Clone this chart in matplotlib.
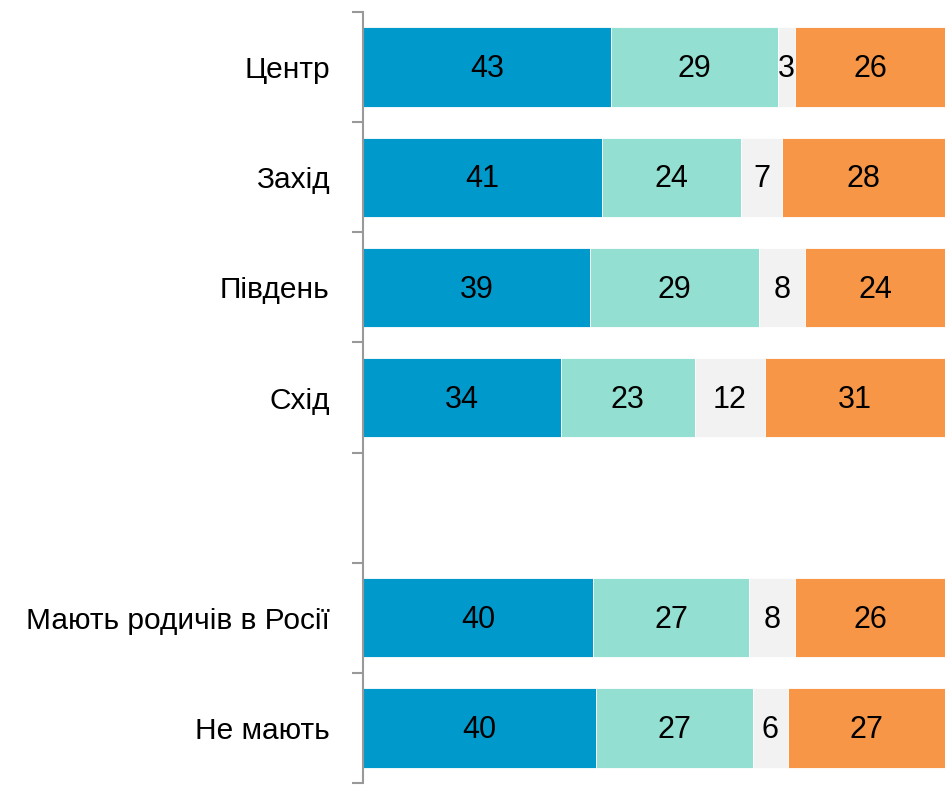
import matplotlib
matplotlib.use("Agg")
import matplotlib.pyplot as plt
import matplotlib.transforms as mtransforms
import numpy as np

plt.rcParams['font.family'] = ['Liberation Sans', 'DejaVu Sans']

#data
labels = ["Центр", "Захід", "Південь", "Схід", "", "Мають родичів в Росії", "Не мають"]
s1 = [43, 41, 39, 34, None, 40, 40]
s2 = [29, 24, 29, 23, None, 27, 27]
s3 = [3, 7, 8, 12, None, 8, 6]
s4 = [26, 28, 24, 31, None, 26, 27]
colors = ["#0099CC", "#93E0D2", "#F2F2F2", "#F79646"]

fig = plt.figure(figsize=(9.53, 7.86), dpi=100)
ax = fig.add_axes([363/953, 1-783/786, (945-363)/953, (783-12)/786])

rows = [i for i in range(len(labels)) if s1[i] is not None]
series = [np.array([ser[i] for i in rows], dtype=float) for ser in [s1, s2, s3, s4]]
totals = sum(series)  # bars are stretched to 100%
left = np.zeros(len(rows))
for vals, c in zip(series, colors):
    w = vals / totals * 100
    ax.barh(rows, w, left=left, height=0.72, color=c, edgecolor="white", linewidth=0.6)
    for y, l, ww, v in zip(rows, left, w, vals):
        ax.text(l + ww/2, y + 0.02, f"{int(v)}", ha="center", va="center", fontsize=22, color="black")
    left += w

ax.set_xlim(0, 100)
ax.set_ylim(6.5, -0.5)
ax.set_yticks(range(len(labels)))
ax.set_yticklabels(labels, fontsize=21.5)
# push labels down a bit
shift = mtransforms.ScaledTranslation(0, -2/72, fig.dpi_scale_trans)
for t in ax.get_yticklabels():
    t.set_transform(t.get_transform() + shift)
ax.tick_params(axis="y", which="major", length=0, pad=24)
ax.set_yticks(np.arange(-0.5, 7, 1), minor=True)
ax.tick_params(axis="y", which="minor", length=8, width=1.5, color="#999999")
ax.set_xticks([])
for s in ["top", "right", "bottom"]:
    ax.spines[s].set_visible(False)
ax.spines["left"].set_color("#999999")
ax.spines["left"].set_linewidth(1.5)

fig.savefig("out.png", dpi=100)
